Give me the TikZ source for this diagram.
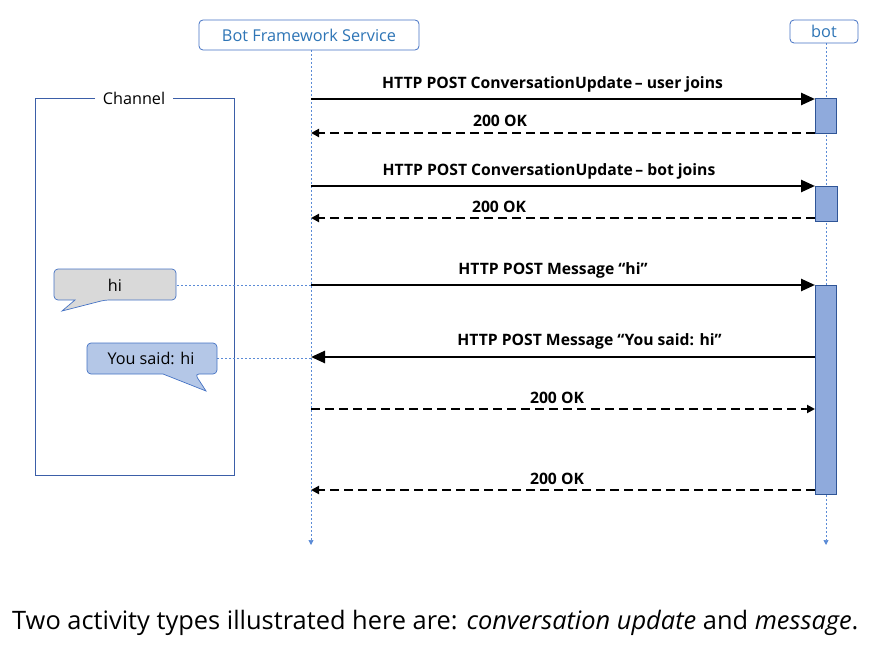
\documentclass[tikz,border=0pt]{standalone}
\usepackage{fontspec}
\setmainfont{Open Sans}
\usetikzlibrary{arrows.meta}
\definecolor{lifeblue}{HTML}{5B8BD6}
\definecolor{boxblue}{HTML}{4472C4}
\definecolor{txtblue}{HTML}{2E75B6}
\definecolor{actfill}{HTML}{8FAADC}
\definecolor{actdraw}{HTML}{2F5597}
\definecolor{frameblue}{HTML}{3B5EA8}
\definecolor{bubgray}{HTML}{D9D9D9}
\definecolor{bubblue}{HTML}{B4C7E7}
\tikzset{
  actor/.style={draw=boxblue, line width=0.8pt, rounded corners=4pt, fill=white, text=txtblue, font=\fontsize{16.3}{19}\selectfont, inner sep=0pt},
  lifeline/.style={draw=lifeblue, line width=0.7pt, dash pattern=on 2pt off 2pt, -{Triangle[length=5pt,width=5pt,fill=lifeblue,sep=0pt]}},
  actbox/.style={draw=actdraw, line width=0.8pt, fill=actfill},
  callmsg/.style={line width=2.5pt, -{Triangle[length=14pt,width=12pt]}},
  retmsg/.style={line width=2.5pt, dash pattern=on 9pt off 5pt, -{Triangle[length=8pt,width=8pt]}},
  msglabel/.style={font=\fontsize{15.7}{18}\selectfont\bfseries, inner sep=0pt},
  plain/.style={font=\fontsize{16.2}{19}\selectfont, inner sep=0pt},
  bubbleline/.style={draw=lifeblue, line width=0.7pt, dash pattern=on 2pt off 2pt},
}
\begin{document}
\begin{tikzpicture}[x=1pt,y=-1pt]
\useasboundingbox (0,0) rectangle (880,652);
% lifelines
\coordinate (sTop) at (311,50);
\coordinate (sBot) at (311,545);
\coordinate (bTop) at (826,43);
\coordinate (bBot) at (826,545);
\draw[lifeline] (sTop) -- (sBot);
\draw[lifeline] (bTop) -- (bBot);
% actors
\node[actor, minimum width=220pt, minimum height=30pt] (svc) at (309,35) {Bot Framework Service};
\node[actor, minimum width=68pt, minimum height=23pt] (bot) at (824,31.5) {bot};
% channel frame
\node[plain] (chan) at (134,98) {Channel};
\draw[frameblue, line width=0.7pt] (95,98) -- (35,98) -- (35,475) -- (234,475) -- (234,98) -- (173,98);
% activations
\draw[actbox] (815,98) rectangle (836,133);
\draw[actbox] (815,186) rectangle (837,221);
\draw[actbox] (815,285) rectangle (836,494);
% message coordinates
\coordinate (s1) at (311,99);  \coordinate (b1) at (815,99);
\coordinate (s2) at (311,133); \coordinate (b2) at (815,133);
\coordinate (s3) at (311,186); \coordinate (b3) at (815,186);
\coordinate (s4) at (311,218); \coordinate (b4) at (815,218);
\coordinate (s5) at (311,285); \coordinate (b5) at (815,285);
\coordinate (s6) at (311,357); \coordinate (b6) at (815,357);
\coordinate (s7) at (311,409); \coordinate (b7) at (815,409);
\coordinate (s8) at (311,490); \coordinate (b8) at (815,490);
\draw[callmsg] (s1) -- (b1);
\draw[retmsg] (b2) -- (s2);
\draw[callmsg] (s3) -- (b3);
\draw[retmsg] (b4) -- (s4);
\draw[callmsg] (s5) -- (b5);
\draw[callmsg] (b6) -- (s6);
\draw[retmsg] (s7) -- (b7);
\draw[retmsg] (b8) -- (s8);
\node[msglabel] (l1) at (552.5,84) {HTTP POST ConversationUpdate\,– user joins};
\node[msglabel] (l2) at (500,121) {200 OK};
\node[msglabel] (l3) at (549,171) {HTTP POST ConversationUpdate\,– bot joins};
\node[msglabel] (l4) at (499,207) {200 OK};
\node[msglabel] (l5) at (553,270) {HTTP POST Message “hi”};
\node[msglabel] (l6) at (589.5,341) {HTTP POST Message “You said: hi”};
\node[msglabel] (l7) at (557,398) {200 OK};
\node[msglabel] (l8) at (557,479) {200 OK};
% bubbles
\draw[bubbleline] (177,285) -- (s5);
\draw[bubbleline] (217,358) -- (311,358);
\draw[draw=boxblue, line width=0.7pt, fill=bubgray, rounded corners=4pt]
  (54,269) -- (176,269) -- (176,300) -- (105,300) [sharp corners] -- (62,311) -- (75,300) [rounded corners=4pt] -- (54,300) -- cycle;
\node[plain] (hi) at (115,285) {hi};
\draw[draw=boxblue, line width=0.7pt, fill=bubblue, rounded corners=4pt]
  (87,343) -- (217,343) -- (217,374) -- (195,374) [sharp corners] -- (206,391) -- (163,374) [rounded corners=4pt] -- (87,374) -- cycle;
\node[plain] (said) at (151,358.5) {You said: hi};
% caption
\node[font=\fontsize{25.4}{30}\selectfont, inner sep=0pt, anchor=west] (cap) at (12,623) {Two activity types illustrated here are: \textit{conversation update} and \textit{message}.};
\end{tikzpicture}
\end{document}
